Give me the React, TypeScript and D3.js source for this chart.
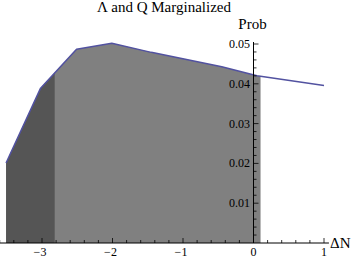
import * as d3 from 'd3';

// data
const deltaN = [-3.51, -3.02, -2.51, -2.01, -1.45, -0.95, -0.45, 0.05, 1.0];
const prob = [0.0201, 0.0389, 0.0487, 0.0502, 0.0479, 0.0461, 0.0443, 0.042, 0.0396];
const xTicks = [-3, -2, -1, 0, 1];
const yTicks = [0.01, 0.02, 0.03, 0.04, 0.05];
const darkEnd = -2.82; // end of the darker shaded part
const shadeEnd = 0.1; // end of the shaded area

const W = 360;
const H = 260;
const font = '"Liberation Serif", "DejaVu Serif", serif';

const App = () => {
  const x = d3.scaleLinear().domain([0, 1]).range([253.5, 324]);
  const y = d3.scaleLinear().domain([0, 0.05]).range([243, 44]);

  const pts: [number, number][] = deltaN.map((d, i) => [d, prob[i]]);

  const area = d3
    .area<[number, number]>()
    .x(d => x(d[0]))
    .y0(y(0))
    .y1(d => y(d[1]));
  const line = d3
    .line<[number, number]>()
    .x(d => x(d[0]))
    .y(d => y(d[1]));

  const minorX = d3.range(-3.6, 1.0001, 0.2).filter(v => Math.abs(v - Math.round(v)) > 1e-6);
  const minorY = d3.range(0.002, 0.0501, 0.002).filter(v => Math.abs(v * 100 - Math.round(v * 100)) > 1e-6);

  const x0 = x(deltaN[0]);

  return (
    <svg width={W} height={H} style={{ position: 'absolute', left: 0, top: 0 }} fontFamily={font}>
      <defs>
        <clipPath id="clipLight">
          <rect x={x0} y={0} width={x(shadeEnd) - x0} height={H} />
        </clipPath>
        <clipPath id="clipDark">
          <rect x={x0} y={0} width={x(darkEnd) - x0} height={H} />
        </clipPath>
      </defs>

      {/* shaded areas */}
      <path d={area(pts) ?? ''} fill="#808080" clipPath="url(#clipLight)" />
      <path d={area(pts) ?? ''} fill="#555555" clipPath="url(#clipDark)" />

      {/* the curve */}
      <path d={line(pts) ?? ''} fill="none" stroke="#5252a0" strokeWidth={1.5} strokeLinejoin="round" />

      {/* x axis */}
      <line x1={0} x2={x(1.07)} y1={y(0)} y2={y(0)} stroke="#000" strokeWidth={1} />
      {minorX.map(v => (
        <line key={'mx' + v} x1={x(v)} x2={x(v)} y1={y(0)} y2={y(0) - 3} stroke="#000" strokeWidth={0.8} />
      ))}
      {xTicks.map(v => (
        <g key={'x' + v}>
          <line x1={x(v)} x2={x(v)} y1={y(0)} y2={y(0) - 5} stroke="#000" strokeWidth={0.8} />
          <text x={x(v) - (v < 0 ? 2 : 0)} y={256} fontSize={12} textAnchor="middle">
            {v < 0 ? '\u2212' + Math.abs(v) : v}
          </text>
        </g>
      ))}
      <text x={330} y={248} fontSize={15}>ΔN</text>

      {/* y axis */}
      <line x1={x(0)} x2={x(0)} y1={y(0)} y2={y(0.0505)} stroke="#000" strokeWidth={1} />
      {minorY.map(v => (
        <line key={'my' + v} x1={x(0)} x2={x(0) + 3} y1={y(v)} y2={y(v)} stroke="#000" strokeWidth={0.8} />
      ))}
      {yTicks.map(v => (
        <g key={'y' + v}>
          <line x1={x(0)} x2={x(0) + 5} y1={y(v)} y2={y(v)} stroke="#000" strokeWidth={0.8} />
          <text x={250} y={y(v) + 4} fontSize={12} textAnchor="end">
            {v.toFixed(2)}
          </text>
        </g>
      ))}
      <text x={252.5} y={29} fontSize={15} textAnchor="middle">Prob</text>

      {/* title */}
      <text x={164} y={12} fontSize={15} textAnchor="middle">Λ and Q Marginalized</text>
    </svg>
  );
};

export default App;
